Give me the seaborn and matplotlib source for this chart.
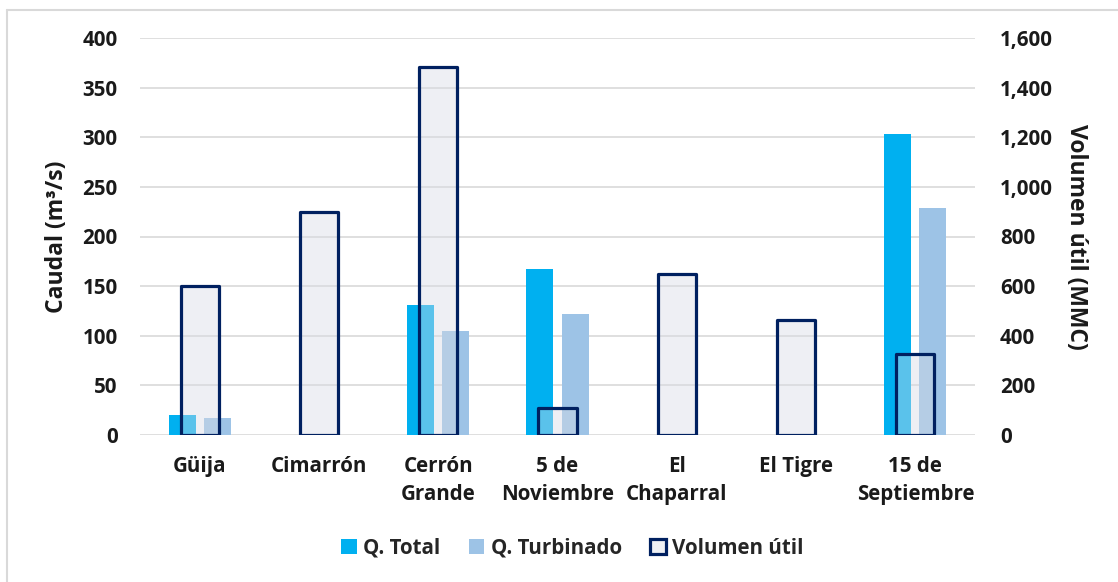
import matplotlib
matplotlib.use("Agg")
import matplotlib.pyplot as plt
from matplotlib.patches import Patch
from matplotlib.lines import Line2D
from matplotlib.ticker import FuncFormatter, MultipleLocator
import seaborn as sns
import pandas as pd

# ---- data ----
categories = ["Güija", "Cimarrón", "Cerrón\nGrande", "5 de\nNoviembre",
              "El\nChaparral", "El Tigre", "15 de\nSeptiembre"]
q_total = [20, 0, 131, 167, 0, 0, 303]
q_turbinado = [17, 0, 105, 122, 0, 0, 229]
volumen_util = [600, 900, 1485, 110, 650, 465, 327]
series_names = ["Q. Total", "Q. Turbinado", "Volumen útil"]

sns.set_style("white")
plt.rcParams['font.family'] = ['Open Sans', 'DejaVu Sans']
plt.rcParams['font.weight'] = 'bold'

c_total = "#00B0F0"
c_turb = "#9DC3E6"
c_edge = "#002060"
c_fill = (216/255, 219/255, 229/255, 0.42)
grid_c = "#D9D9D9"
txt_c = "#1A1A1A"
fs = 14.8

fig = plt.figure(figsize=(11.18, 5.82), dpi=100)
ax = fig.add_axes([140/1118, 1-435/582, 835/1118, 397/582])

df = pd.DataFrame({
    "cat": categories * 2,
    "val": q_total + q_turbinado,
    "serie": [series_names[0]] * len(categories) + [series_names[1]] * len(categories),
})
sns.barplot(data=df, x="cat", y="val", hue="serie", order=categories,
            hue_order=series_names[:2],
            palette={series_names[0]: c_total, series_names[1]: c_turb},
            width=0.588, gap=0.23, saturation=1, linewidth=0, legend=False,
            ax=ax, zorder=2)

ax2 = ax.twinx()
sns.barplot(x=categories, y=volumen_util, order=categories, color="#D8DBE5",
            saturation=1, width=0.32, edgecolor=c_edge, linewidth=2.3,
            ax=ax2, zorder=3)
for p in ax2.patches:
    p.set_facecolor(c_fill)
    p.set_edgecolor(c_edge)
    p.set_joinstyle("round")

for a in (ax, ax2):
    a.set_xlim(-0.5, len(categories) - 0.5)
    for s in a.spines.values():
        s.set_visible(False)

ax.set_ylim(0, 400)
ax.yaxis.set_major_locator(MultipleLocator(50))
ax2.set_ylim(0, 1600)
ax2.yaxis.set_major_locator(MultipleLocator(200))
ax2.yaxis.set_major_formatter(FuncFormatter(lambda v, p: f"{int(v):,}"))

ax.grid(axis="y", color=grid_c, linewidth=1.2, zorder=0)
ax.set_axisbelow(True)
ax2.grid(False)

ax.tick_params(axis="y", length=0, pad=16, labelsize=fs, labelcolor=txt_c)
ax2.tick_params(axis="y", length=0, pad=18, labelsize=fs, labelcolor=txt_c)
ax.tick_params(axis="x", length=0, pad=15, labelsize=fs, labelcolor=txt_c)
for lbl in ax.get_xticklabels() + ax.get_yticklabels() + ax2.get_yticklabels():
    lbl.set_fontweight("bold")
for lbl in ax.get_xticklabels():
    lbl.set_linespacing(1.45)

ax.set_xlabel("")
ax.set_ylabel("Caudal (m³/s)", fontsize=16.5, fontweight="bold", color=txt_c, va="center")
ax.yaxis.set_label_coords(-0.099, 0.5)
ax2.set_ylabel("Volumen útil (MMC)", fontsize=16.5, fontweight="bold", color=txt_c,
               rotation=270, va="center", ha="center")
ax2.yaxis.set_label_coords(1.121, 0.5)

handles = [Patch(facecolor=c_total, edgecolor="none"),
           Patch(facecolor=c_turb, edgecolor="none"),
           Patch(facecolor="#EEF0F4", edgecolor=c_edge, linewidth=2.3)]
fig.legend(handles, series_names, loc="center", bbox_to_anchor=(0.512, 0.058),
           ncol=3, frameon=False, handlelength=0.75, handleheight=0.75,
           handletextpad=0.3, columnspacing=1.4,
           prop={"weight": "bold", "size": fs})

# chart-area frame (top and left edges visible)
fig.add_artist(Line2D([7/1118, 1.0], [1-10/582, 1-10/582], color=grid_c, linewidth=1.5))
fig.add_artist(Line2D([7/1118, 7/1118], [0.0, 1-10/582], color=grid_c, linewidth=1.5))

fig.savefig("out.png", dpi=100)
